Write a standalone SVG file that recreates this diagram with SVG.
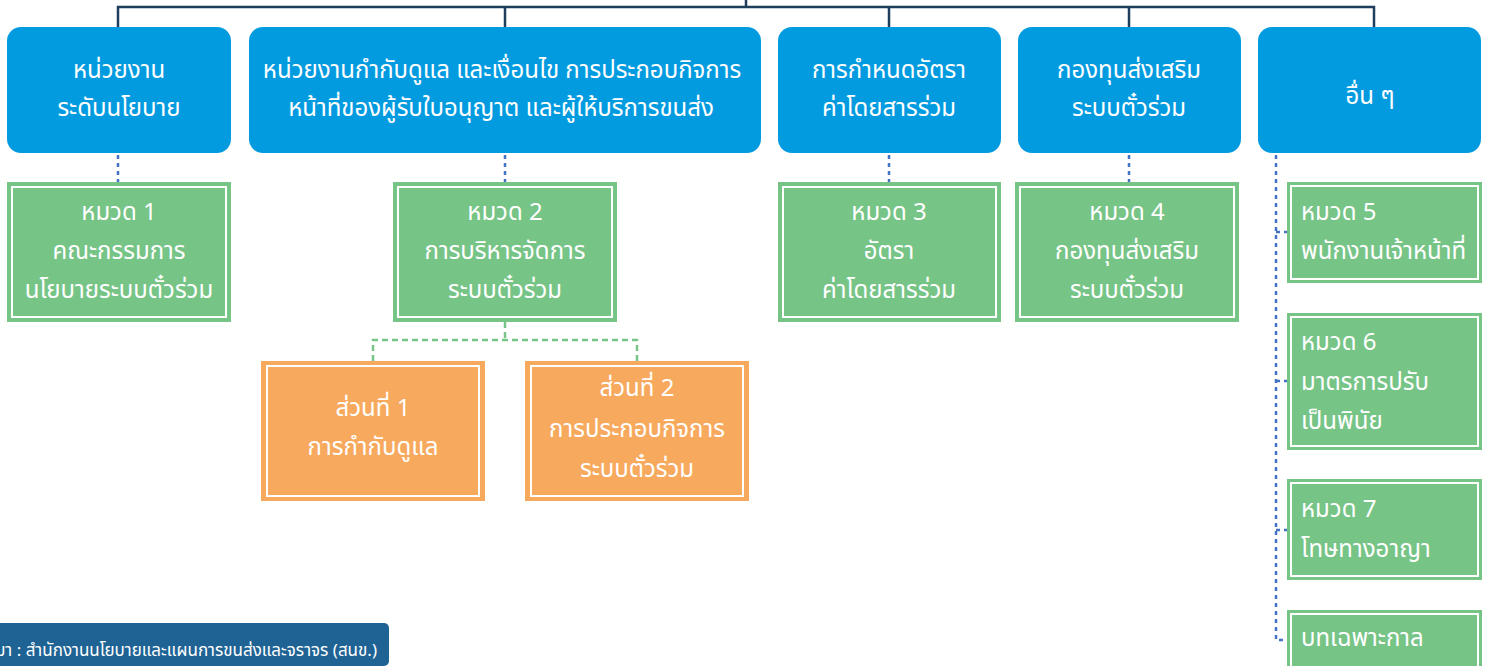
<svg xmlns="http://www.w3.org/2000/svg" width="1491" height="666" viewBox="0 0 1491 666">
<style>
.t{font-family:"Noto Sans Thai","Noto Sans","DejaVu Sans",sans-serif;fill:#fff;font-size:24px;}
.c{text-anchor:middle;}
.blue{fill:#039be0;}
.green{fill:#77c487;}
.orange{fill:#f7a95e;}
.inner{fill:none;stroke:#fff;stroke-width:2;}
.solid{fill:none;stroke:#1f3d5c;stroke-width:2.5;}
.dotb{fill:none;stroke:#4472c4;stroke-width:2.5;stroke-dasharray:4 4;}
.dashg{fill:none;stroke:#77c487;stroke-width:2.5;stroke-dasharray:6 4;}
</style>
<g id="connectors">
<path class="solid" d="M746 0V7M118 27V7H1374V27M505 7V27M889 7V27M1129 7V27"/>
<path class="dotb" d="M118 155V182M505 155V182M889 155V182M1129 155V182"/>
<path class="dotb" d="M1276 155V640H1287M1276 232H1287M1276 381H1287M1276 530H1287"/>
<path class="dashg" d="M505 322V340M373 361V340H637V361"/>
</g>
<g id="n-policy"><rect class="blue" x="7" y="27" width="224" height="126" rx="14"/>
<text class="t c" x="119" y="78">หน่วยงาน</text><text class="t c" x="119" y="116">ระดับนโยบาย</text></g>
<g id="n-regulator"><rect class="blue" x="249" y="27" width="512" height="126" rx="14"/>
<text class="t c" x="502" y="78">หน่วยงานกำกับดูแล และเงื่อนไข การประกอบกิจการ</text><text class="t c" x="501" y="116">หน้าที่ของผู้รับใบอนุญาต และผู้ให้บริการขนส่ง</text></g>
<g id="n-fare"><rect class="blue" x="778" y="27" width="223" height="126" rx="14"/>
<text class="t c" x="889" y="78">การกำหนดอัตรา</text><text class="t c" x="889" y="116">ค่าโดยสารร่วม</text></g>
<g id="n-fund"><rect class="blue" x="1018" y="27" width="223" height="126" rx="14"/>
<text class="t c" x="1129" y="78">กองทุนส่งเสริม</text><text class="t c" x="1129" y="116">ระบบตั๋วร่วม</text></g>
<g id="n-other"><rect class="blue" x="1258" y="27" width="223" height="126" rx="14"/>
<text class="t c" x="1370" y="104">อื่น ๆ</text></g>

<g id="n-ch1"><rect class="green" x="7" y="182" width="224" height="140"/><rect class="inner" x="12" y="187" width="214" height="130"/>
<text class="t c" x="119" y="220">หมวด 1</text><text class="t c" x="119" y="259">คณะกรรมการ</text><text class="t c" x="119" y="298">นโยบายระบบตั๋วร่วม</text></g>
<g id="n-ch2"><rect class="green" x="393" y="182" width="224" height="140"/><rect class="inner" x="398" y="187" width="214" height="130"/>
<text class="t c" x="505" y="220">หมวด 2</text><text class="t c" x="505" y="259">การบริหารจัดการ</text><text class="t c" x="505" y="298">ระบบตั๋วร่วม</text></g>
<g id="n-ch3"><rect class="green" x="778" y="182" width="223" height="140"/><rect class="inner" x="783" y="187" width="213" height="130"/>
<text class="t c" x="889" y="220">หมวด 3</text><text class="t c" x="889" y="259">อัตรา</text><text class="t c" x="889" y="298">ค่าโดยสารร่วม</text></g>
<g id="n-ch4"><rect class="green" x="1015" y="182" width="224" height="140"/><rect class="inner" x="1020" y="187" width="214" height="130"/>
<text class="t c" x="1127" y="220">หมวด 4</text><text class="t c" x="1127" y="259">กองทุนส่งเสริม</text><text class="t c" x="1127" y="298">ระบบตั๋วร่วม</text></g>

<g id="n-part1"><rect class="orange" x="261" y="361" width="224" height="140"/><rect class="inner" x="267" y="366" width="212" height="130"/>
<text class="t c" x="373" y="416">ส่วนที่ 1</text><text class="t c" x="373" y="455">การกำกับดูแล</text></g>
<g id="n-part2"><rect class="orange" x="525" y="361" width="224" height="140"/><rect class="inner" x="531" y="366" width="212" height="130"/>
<text class="t c" x="637" y="396">ส่วนที่ 2</text><text class="t c" x="637" y="437">การประกอบกิจการ</text><text class="t c" x="637" y="477">ระบบตั๋วร่วม</text></g>

<g id="n-ch5"><rect class="green" x="1287" y="182" width="195" height="101"/><rect class="inner" x="1291" y="186" width="187" height="93"/>
<text class="t" x="1301" y="220">หมวด 5</text><text class="t" x="1301" y="259">พนักงานเจ้าหน้าที่</text></g>
<g id="n-ch6"><rect class="green" x="1287" y="313" width="195" height="137"/><rect class="inner" x="1291" y="317" width="187" height="129"/>
<text class="t" x="1301" y="350">หมวด 6</text><text class="t" x="1301" y="390">มาตรการปรับ</text><text class="t" x="1301" y="429">เป็นพินัย</text></g>
<g id="n-ch7"><rect class="green" x="1287" y="479" width="195" height="101"/><rect class="inner" x="1291" y="483" width="187" height="93"/>
<text class="t" x="1301" y="517">หมวด 7</text><text class="t" x="1301" y="557">โทษทางอาญา</text></g>
<g id="n-transit"><rect class="green" x="1287" y="610" width="195" height="60"/><rect class="inner" x="1291" y="614" width="187" height="56"/>
<text class="t" x="1301" y="646">บทเฉพาะกาล</text></g>

<g id="n-source"><rect x="-10" y="623" width="399" height="43" rx="5" fill="#1f6395"/>
<text class="t" x="377" y="656" style="font-size:17px;text-anchor:end">ที่มา : สำนักงานนโยบายและแผนการขนส่งและจราจร (สนข.)</text></g>
</svg>
